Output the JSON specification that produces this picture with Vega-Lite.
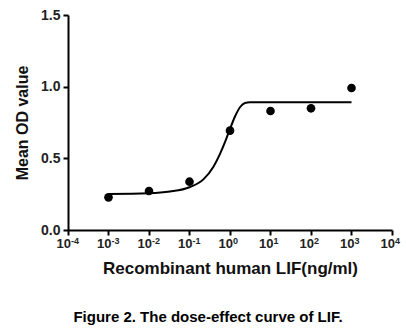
{
  "$schema": "https://vega.github.io/schema/vega-lite/v6.json",
  "autosize": "none",
  "width": 324,
  "height": 215,
  "padding": {"left": 68, "top": 15, "right": 14, "bottom": 102},
  "background": "white",
  "config": {
    "view": {"stroke": null},
    "font": "Liberation Sans"
  },
  "title": {
    "text": "Figure 2. The dose-effect curve of LIF.",
    "orient": "bottom",
    "anchor": "middle",
    "dx": -22,
    "offset": 34,
    "fontSize": 15,
    "fontWeight": "bold",
    "font": "Liberation Sans",
    "color": "black"
  },
  "datasets": {
    "points": [
      {"dose": 0.001, "od": 0.228},
      {"dose": 0.01, "od": 0.272},
      {"dose": 0.1, "od": 0.337},
      {"dose": 1, "od": 0.693},
      {"dose": 10, "od": 0.83},
      {"dose": 100, "od": 0.849},
      {"dose": 1000, "od": 0.991}
    ],
    "curve": [
      {"dose": 0.001, "od": 0.251},
      {"dose": 0.01, "od": 0.256},
      {"dose": 0.033, "od": 0.268},
      {"dose": 0.1, "od": 0.298},
      {"dose": 0.22, "od": 0.353},
      {"dose": 0.39, "od": 0.442},
      {"dose": 0.56, "od": 0.528},
      {"dose": 0.76, "od": 0.616},
      {"dose": 1.0, "od": 0.705},
      {"dose": 1.32, "od": 0.79},
      {"dose": 1.78, "od": 0.858},
      {"dose": 2.34, "od": 0.886},
      {"dose": 3.1, "od": 0.891},
      {"dose": 10, "od": 0.891},
      {"dose": 1000, "od": 0.891}
    ],
    "ticks": [
      {"dose": 0.0001, "exp": "-4"},
      {"dose": 0.001, "exp": "-3"},
      {"dose": 0.01, "exp": "-2"},
      {"dose": 0.1, "exp": "-1"},
      {"dose": 1, "exp": "0"},
      {"dose": 10, "exp": "1"},
      {"dose": 100, "exp": "2"},
      {"dose": 1000, "exp": "3"},
      {"dose": 10000, "exp": "4"}
    ]
  },
  "layer": [
    {
      "data": {"name": "curve"},
      "mark": {"type": "line", "color": "black", "strokeWidth": 2, "interpolate": "monotone"},
      "encoding": {
        "x": {
          "field": "dose", "type": "quantitative",
          "scale": {"type": "log", "domain": [0.0001, 10000], "nice": false},
          "axis": {
            "title": "Recombinant human LIF(ng/ml)",
            "values": [0.0001, 0.001, 0.01, 0.1, 1, 10, 100, 1000, 10000],
            "labels": false,
            "domainColor": "black", "domainWidth": 2,
            "tickColor": "black", "tickWidth": 2, "tickSize": 5,
            "titleFontSize": 17, "titleFontWeight": "bold", "titleColor": "#111",
            "titleFont": "Liberation Sans", "titlePadding": 24,
            "grid": false
          }
        },
        "y": {
          "field": "od", "type": "quantitative",
          "scale": {"domain": [0, 1.5], "nice": false},
          "axis": {
            "title": "Mean OD value",
            "values": [0, 0.5, 1, 1.5],
            "format": ".1f",
            "domainColor": "black", "domainWidth": 2,
            "tickColor": "black", "tickWidth": 2, "tickSize": 5,
            "labelFontSize": 14, "labelFontWeight": "bold", "labelColor": "#222",
            "labelPadding": 3, "labelFont": "Liberation Sans",
            "titleFontSize": 16, "titleFontWeight": "bold", "titleColor": "#111",
            "titleFont": "Liberation Sans", "titlePadding": 10,
            "grid": false
          }
        }
      }
    },
    {
      "data": {"name": "points"},
      "mark": {"type": "point", "filled": true, "color": "black", "opacity": 1, "size": 75, "shape": "circle"},
      "encoding": {
        "x": {"field": "dose", "type": "quantitative"},
        "y": {"field": "od", "type": "quantitative"}
      }
    },
    {
      "data": {"name": "ticks"},
      "mark": {"type": "text", "text": "10", "align": "right", "baseline": "top", "dx": 3, "dy": 8, "fontSize": 13, "fontWeight": "bold", "font": "Liberation Sans", "color": "#222"},
      "encoding": {
        "x": {"field": "dose", "type": "quantitative"},
        "y": {"datum": 0, "type": "quantitative"}
      }
    },
    {
      "data": {"name": "ticks"},
      "mark": {"type": "text", "align": "left", "baseline": "top", "dx": 3, "dy": 7, "fontSize": 9, "fontWeight": "bold", "font": "Liberation Sans", "color": "#222"},
      "encoding": {
        "x": {"field": "dose", "type": "quantitative"},
        "y": {"datum": 0, "type": "quantitative"},
        "text": {"field": "exp"}
      }
    }
  ]
}
